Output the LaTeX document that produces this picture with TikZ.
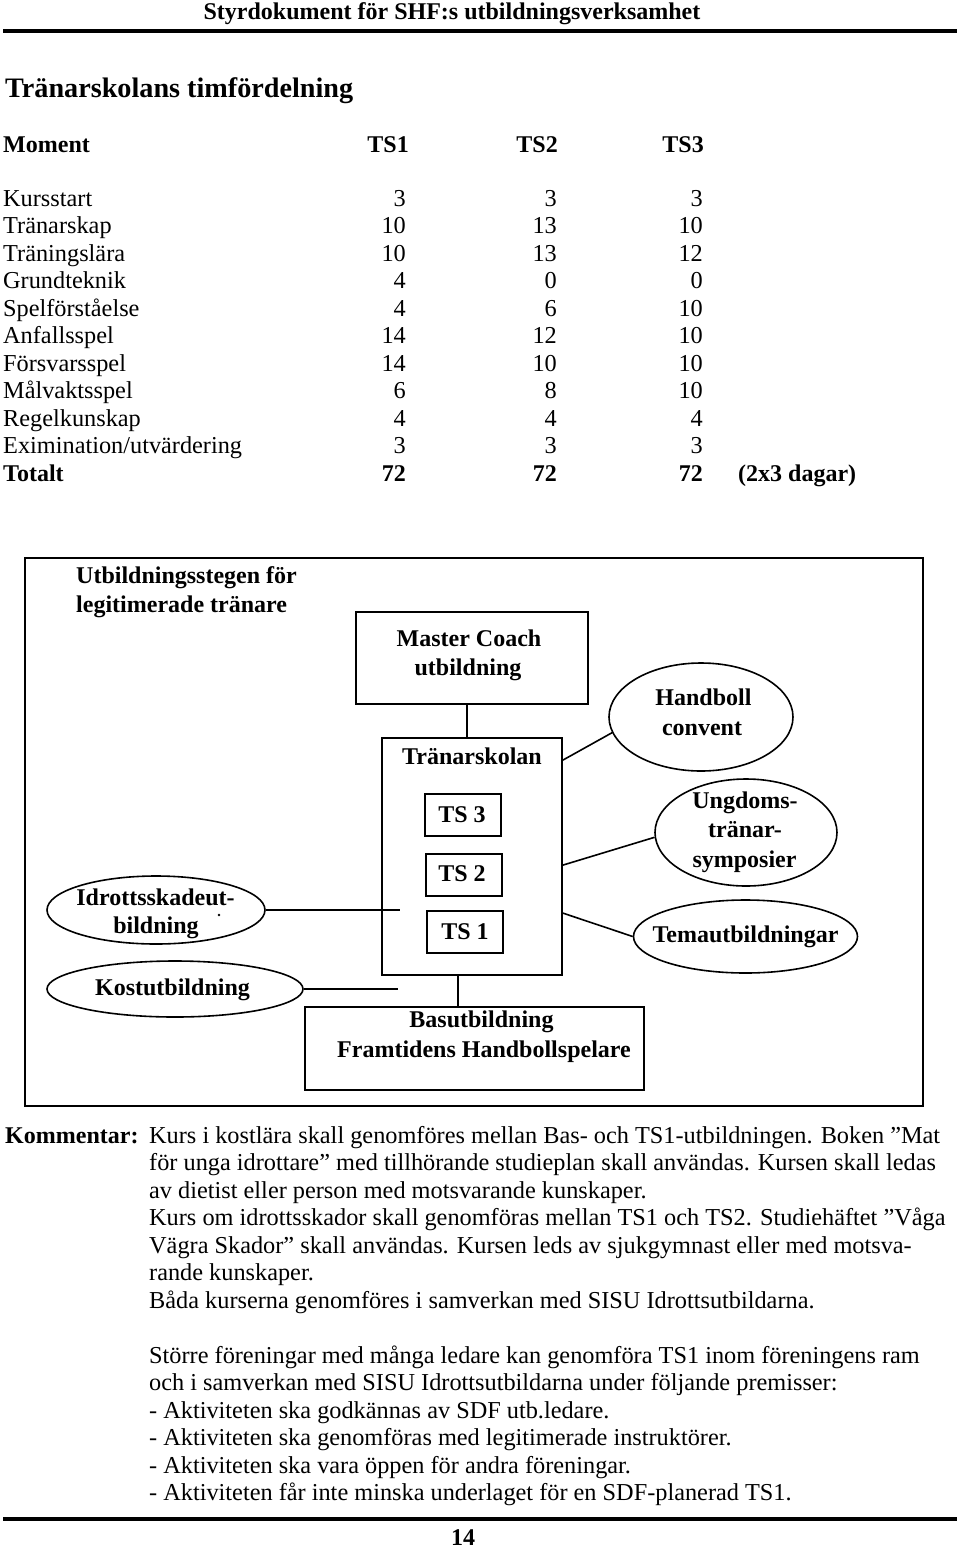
\documentclass[tikz,border=0pt]{standalone}
\usepackage{fontspec}
\setmainfont{Liberation Serif}
\usetikzlibrary{shapes.geometric}
\begin{document}
\begin{tikzpicture}[x=1pt,y=-1pt,
  reg/.style={font=\fontsize{24.3}{27.5}\selectfont, inner sep=0pt},
  bld/.style={font=\fontsize{24}{27.5}\selectfont\bfseries, inner sep=0pt},
  ttl/.style={font=\fontsize{28.2}{32}\selectfont\bfseries, inner sep=0pt},
  lw/.style={anchor=base west}, rw/.style={anchor=base east}, cb/.style={anchor=base},
  box/.style={draw, line width=1.8pt, rectangle, inner sep=0pt},
  oval/.style={draw, line width=1.6pt, ellipse, inner sep=0pt},
  conn/.style={line width=1.6pt},
  rule/.style={line width=4pt}]
\useasboundingbox (0,0) rectangle (960,1548);

% header
\node[bld, cb] (hdr) at (452,19) {Styrdokument för SHF:s utbildningsverksamhet};
\coordinate (r1a) at (3,31); \coordinate (r1b) at (957,31);
\draw[rule] (r1a) -- (r1b);

% title and table
\node[ttl, lw] (title) at (5,97) {Tränarskolans timfördelning};
\node[bld, lw] (hmom) at (3,152) {Moment};
\node[bld, rw] (hts1) at (409,152) {TS1};
\node[bld, rw] (hts2) at (558,152) {TS2};
\node[bld, rw] (hts3) at (704,152) {TS3};
\foreach \n/\a/\b/\c [count=\i] in {Kursstart/3/3/3, Tränarskap/10/13/10, Träningslära/10/13/12, Grundteknik/4/0/0, Spelförståelse/4/6/10, Anfallsspel/14/12/10, Försvarsspel/14/10/10, Målvaktsspel/6/8/10, Regelkunskap/4/4/4, {Eximination/utvärdering}/3/3/3}{
  \node[reg, lw] (m\i) at (3,178.5+27.5*\i) {\n};
  \node[reg, rw] (a\i) at (406,178.5+27.5*\i) {\a};
  \node[reg, rw] (b\i) at (557,178.5+27.5*\i) {\b};
  \node[reg, rw] (c\i) at (703,178.5+27.5*\i) {\c};
}
\node[bld, lw] (tot) at (3,481) {Totalt};
\node[bld, rw] (tota) at (406,481) {72};
\node[bld, rw] (totb) at (557,481) {72};
\node[bld, rw] (totc) at (703,481) {72};
\node[bld, lw] (dagar) at (738,481) {(2x3 dagar)};

% diagram frame
\node[box, minimum width=898pt, minimum height=548pt] (frame) at (474,832) {};
\node[bld, lw] (st1) at (76,583) {Utbildningsstegen för};
\node[bld, lw] (st2) at (76,612) {legitimerade tränare};

% Master coach
\node[box, minimum width=232pt, minimum height=92pt] (mc) at (472,658) {};
\node[bld, cb] (mct1) at (469,646) {Master Coach};
\node[bld, cb] (mct2) at (468,675) {utbildning};

% Tränarskolan
\node[box, minimum width=180pt, minimum height=237pt] (tr) at (472,856.5) {};
\node[bld, cb] (trt) at (472,764) {Tränarskolan};
\node[box, minimum width=76pt, minimum height=42pt] (ts3) at (463,815) {};
\node[box, minimum width=76pt, minimum height=42pt] (ts2) at (464,875) {};
\node[box, minimum width=76pt, minimum height=42pt] (ts1) at (465,932) {};
\node[bld, cb] (ts3t) at (462,822) {TS 3};
\node[bld, cb] (ts2t) at (462,881) {TS 2};
\node[bld, cb] (ts1t) at (465,939) {TS 1};

% Basutbildning
\node[box, minimum width=339pt, minimum height=83pt] (bas) at (474.5,1048.5) {};
\node[bld, cb] (bast1) at (481.5,1027.5) {Basutbildning};
\node[bld, cb] (bast2) at (484,1057) {Framtidens Handbollspelare};

% ellipses left
\node[oval, minimum width=218pt, minimum height=68pt] (idr) at (156,910) {};
\node[bld, cb] (idrt1) at (155.5,905) {Idrottsskadeut-};
\node[bld, cb] (idrt2) at (156,933) {bildning};
\fill (219,915) circle (1.3pt);
\node[oval, minimum width=256pt, minimum height=56pt] (kost) at (175,989) {};
\node[bld, cb] (kostt) at (172.5,995) {Kostutbildning};

% ellipses right
\node[oval, minimum width=184pt, minimum height=108pt] (hb) at (701,717) {};
\node[bld, cb] (hbt1) at (703.5,705) {Handboll};
\node[bld, cb] (hbt2) at (702,735) {convent};
\node[oval, minimum width=182pt, minimum height=107pt] (ung) at (746,832.5) {};
\node[bld, cb] (ungt1) at (745,808) {Ungdoms-};
\node[bld, cb] (ungt2) at (745,837.5) {tränar-};
\node[bld, cb] (ungt3) at (744.5,867) {symposier};
\node[oval, minimum width=224pt, minimum height=73pt] (tema) at (745.5,936.5) {};
\node[bld, cb] (temat) at (745.5,942.5) {Temautbildningar};

% connectors
\draw[conn] ([xshift=-5pt]mc.south) -- ([xshift=-5pt]tr.north);
\draw[conn] ([xshift=-14pt]tr.south) -- ([xshift=-16.5pt]bas.north);
\coordinate (idrEnd) at (400,910);
\coordinate (kostEnd) at (398,989);
\draw[conn] (idr.east) -- (idrEnd);
\draw[conn] (kost.east) -- (kostEnd);
\draw[conn] ([yshift=-23pt]tr.north east) -- (hb.190);
\draw[conn] ([yshift=-128pt]tr.north east) -- (ung.183);
\draw[conn] ([yshift=-176pt]tr.north east) -- (tema.west);

% comments
\node[bld, lw] (kom) at (5,1143) {Kommentar:};
\node[reg, lw] (k1) at (149,1143) {Kurs i kostlära skall genomföres mellan Bas- och TS1-utbildningen. Boken ”Mat};
\node[reg, lw] (k2) at (149,1170.5) {för unga idrottare” med tillhörande studieplan skall användas. Kursen skall ledas};
\node[reg, lw] (k3) at (149,1198) {av dietist eller person med motsvarande kunskaper.};
\node[reg, lw] (k4) at (149,1225.5) {Kurs om idrottsskador skall genomföras mellan TS1 och TS2. Studiehäftet ”Våga};
\node[reg, lw] (k5) at (149,1253) {Vägra Skador” skall användas. Kursen leds av sjukgymnast eller med motsva-};
\node[reg, lw] (k6) at (149,1280.5) {rande kunskaper.};
\node[reg, lw] (k7) at (149,1308) {Båda kurserna genomföres i samverkan med SISU Idrottsutbildarna.};
\node[reg, lw] (k8) at (149,1363) {Större föreningar med många ledare kan genomföra TS1 inom föreningens ram};
\node[reg, lw] (k9) at (149,1390.5) {och i samverkan med SISU Idrottsutbildarna under följande premisser:};
\node[reg, lw] (k10) at (149,1418) {- Aktiviteten ska godkännas av SDF utb.ledare.};
\node[reg, lw] (k11) at (149,1445.5) {- Aktiviteten ska genomföras med legitimerade instruktörer.};
\node[reg, lw] (k12) at (149,1473) {- Aktiviteten ska vara öppen för andra föreningar.};
\node[reg, lw] (k13) at (149,1500.5) {- Aktiviteten får inte minska underlaget för en SDF-planerad TS1.};

% footer
\coordinate (r2a) at (3,1519); \coordinate (r2b) at (957,1519);
\draw[rule] (r2a) -- (r2b);
\node[bld, cb] (pg) at (463,1545) {14};
\end{tikzpicture}
\end{document}
